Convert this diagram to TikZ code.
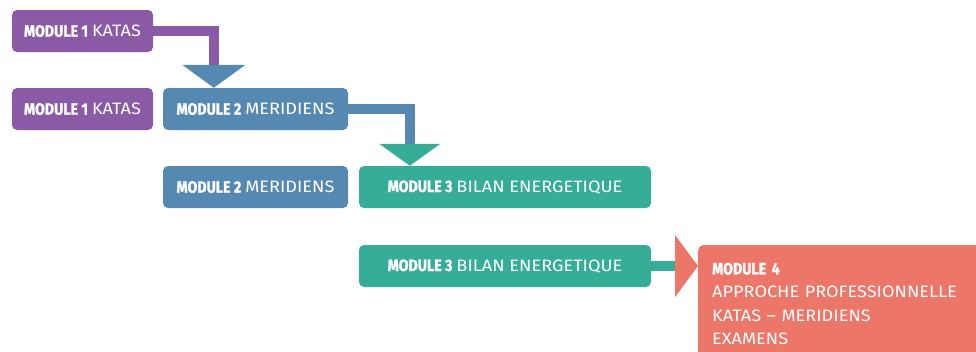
\documentclass[tikz,border=0pt]{standalone}
\usepackage{fontspec}
\setmainfont{Fira Sans}
\newfontfamily\regc[FakeStretch=1.1]{Fira Sans}
\newfontfamily\boldc[FakeStretch=0.86,FakeBold=1.2]{Fira Sans}
\usetikzlibrary{arrows.meta,calc}
\definecolor{cpurple}{RGB}{139,90,166}
\definecolor{cblue}{RGB}{86,137,178}
\definecolor{cgreen}{RGB}{54,173,151}
\definecolor{cred}{RGB}{236,118,103}
\newcommand{\modl}[2]{{\boldc\bfseries #1}\hspace{4pt}{\regc #2}}
\tikzset{
  box/.style={fill=#1, rounded corners=5pt, text=white, minimum height=42pt,
    inner sep=0pt, font=\fontsize{16.5pt}{23.5pt}\selectfont},
  conn/.style={draw=#1, line width=10pt},
}
\begin{document}
\begin{tikzpicture}[x=1pt,y=-1pt]
\useasboundingbox (0,0) rectangle (976,351);
\clip (0,0) rectangle (976,351);
% boxes
\node[box=cpurple, minimum width=141pt] (m1a) at (82.5,31) {\modl{MODULE 1}{KATAS}};
\node[box=cpurple, minimum width=141pt] (m1b) at (82.5,109) {\modl{MODULE 1}{KATAS}};
\node[box=cblue, minimum width=185pt] (m2a) at (255.5,109) {\modl{MODULE 2}{MERIDIENS}};
\node[box=cblue, minimum width=185pt] (m2b) at (255.5,187) {\modl{MODULE 2}{MERIDIENS}};
\node[box=cgreen, minimum width=292pt] (m3a) at (505,187) {\modl{MODULE 3}{BILAN ENERGETIQUE}};
\node[box=cgreen, minimum width=292pt] (m3b) at (505,266) {\modl{MODULE 3}{BILAN ENERGETIQUE}};
\node[box=cred, anchor=north west, text width=260pt, align=left,
  inner xsep=14pt, inner ysep=17.5pt, minimum height=0pt,
  font=\fontsize{16.5pt}{23.5pt}\selectfont] (m4) at (698,245)
  {{\boldc\bfseries MODULE 4}\\{\regc APPROCHE PROFESSIONNELLE}\\{\regc KATAS – MERIDIENS}\\{\regc EXAMENS}};
% arrow tips
\coordinate (t1) at ($(m2a.north west)+(51,0)$);
\coordinate (t2) at ($(m3a.north west)+(51,0)$);
\coordinate (t3) at ($(m4.north west)+(0,21)$);
% connectors
\draw[conn=cpurple, -{Triangle[length=23pt,width=62pt,color=cblue]}] (m1a.east) -| (t1);
\draw[conn=cblue, -{Triangle[length=22pt,width=60pt,color=cgreen]}] (m2a.east) -| (t2);
\draw[conn=cgreen, -{Triangle[length=23pt,width=61pt,color=cred]}] (m3b.east) -- (t3);
\end{tikzpicture}
\end{document}
